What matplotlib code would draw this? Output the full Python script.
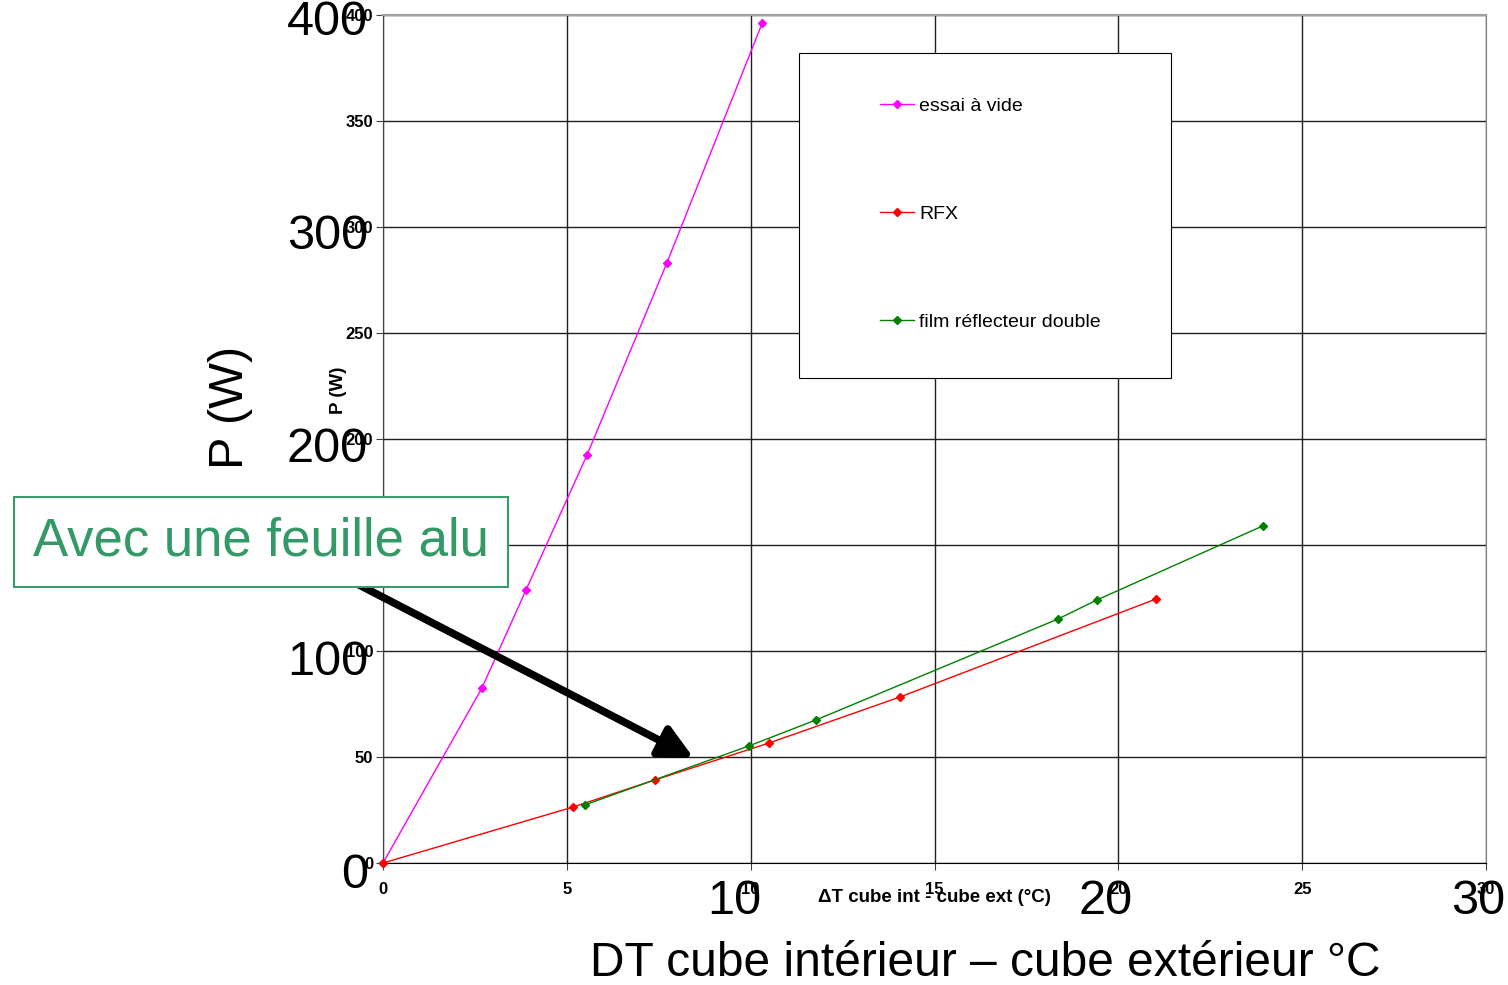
import matplotlib
matplotlib.use("Agg")
import matplotlib.pyplot as plt
import matplotlib.transforms as mtransforms
from matplotlib.patches import Rectangle

plt.rcParams['font.family'] = ['Liberation Sans', 'DejaVu Sans']

# mesures : P (W) en fonction de DT (°C)
dt_vide = [0, 2.69, 3.89, 5.55, 7.72, 10.31]
p_vide = [0, 82.5, 128.8, 192.5, 283, 396]

dt_rfx = [0, 5.17, 7.40, 10.50, 14.06, 21.02]
p_rfx = [0, 26.4, 39.2, 56.6, 78.3, 124.5]

dt_film = [5.49, 9.95, 11.78, 18.36, 19.42, 23.93]
p_film = [27.4, 55.2, 67.5, 115.1, 124.1, 159]

series_names = ['essai à vide', 'RFX', 'film réflecteur double']
series_colors = ['#ff00ff', '#ff0000', '#008000']

small_xticks = [0, 5, 10, 15, 20, 25, 30]
small_yticks = [0, 50, 100, 150, 200, 250, 300, 350, 400]
big_xticks = [10, 20, 30]
big_yticks = [0, 100, 200, 300, 400]

W, H = 1508, 985
fig = plt.figure(figsize=(W / 100, H / 100), dpi=100)

ax = fig.add_axes([383 / W, 1 - 863 / H, (1486 - 383) / W, (863 - 15) / H])
ax.set_xlim(0, 30)
ax.set_ylim(0, 400)
ax.set_xticks(small_xticks)
ax.set_yticks(small_yticks)
ax.tick_params(labelsize=12, length=5, width=0.8, color='#404040')
ax.tick_params(axis='x', pad=9)
ax.tick_params(axis='y', pad=2)
for lab in ax.get_xticklabels() + ax.get_yticklabels():
    lab.set_fontweight('bold')
ax.grid(True, color='#202020', lw=1)
ax.set_axisbelow(True)
ax.spines['top'].set_color('#a0a0a0')
ax.spines['top'].set_linewidth(1.6)
ax.spines['right'].set_color('#808080')
ax.spines['left'].set_color('#404040')
ax.spines['bottom'].set_color('black')

handles = []
for xs, ys, name, col in zip([dt_vide, dt_rfx, dt_film], [p_vide, p_rfx, p_film],
                             series_names, series_colors):
    h, = ax.plot(xs, ys, color=col, lw=1.0, marker='D', ms=4.5, mec=col, mfc=col,
                 label=name, clip_on=False, zorder=3)
    handles.append(h)

# cadre de la légende
bx0, bx1 = (799 - 383) / 1103, (1171 - 383) / 1103
by0, by1 = (863 - 378) / 848, (863 - 53) / 848
ax.add_patch(Rectangle((bx0, by0), bx1 - bx0, by1 - by0, transform=ax.transAxes,
                       facecolor='white', edgecolor='black', lw=0.8, zorder=4))
leg = ax.legend(handles=handles, loc='upper left', frameon=False, fontsize=14,
                bbox_to_anchor=((880 - 383) / 1103, (863 - 97) / 848),
                handlelength=1.75, handletextpad=0.26, labelspacing=4.65,
                borderpad=0, borderaxespad=0)
leg.set_zorder(5)

# petits titres d'axes
ax.text(0.5, -0.041, 'ΔT cube int - cube ext (°C)', transform=ax.transAxes,
        ha='center', va='center', fontsize=13.5, fontweight='bold')
ax.text(-0.040, 0.558, 'P (W)', transform=ax.transAxes, rotation=90,
        ha='center', va='center', fontsize=13.5, fontweight='bold')

# grandes graduations superposées
ov = fig.add_axes([362 / W, 1 - 876 / H, (1478 - 362) / W, (876 - 23) / H])
ov.set_xlim(0, 30)
ov.set_ylim(0, 400)
ov.axis('off')
ov.patch.set_alpha(0)
ty = mtransforms.offset_copy(ov.transData, fig=fig, x=6, y=0, units='dots')
for v in big_yticks:
    ov.text(0, v, str(v), transform=ty, ha='right', va='center', fontsize=35)
tx = mtransforms.offset_copy(ov.transData, fig=fig, x=0, y=-25, units='dots')
for v in big_xticks:
    ov.text(v, 0, str(v), transform=tx, ha='center', va='center', fontsize=35)

fig.text(985 / W, 1 - 963 / H, 'DT cube intérieur – cube extérieur °C',
         ha='center', va='center', fontsize=34.5)
fig.text(230 / W, 1 - 407 / H, 'P (W)', rotation=90,
         ha='center', va='center', fontsize=35)

# flèche et encadré
ax.annotate('', xy=(8.45, 49.5), xytext=(-1.3, 137), xycoords='data',
            annotation_clip=False,
            arrowprops=dict(arrowstyle='-|>,head_length=1.0,head_width=0.5',
                            lw=5.5, color='black', mutation_scale=20,
                            shrinkA=0, shrinkB=0))
fig.text(261 / W, 1 - 542 / H, 'Avec une feuille alu', ha='center', va='center',
         fontsize=38, color='#339966', zorder=10,
         bbox=dict(boxstyle='square,pad=0.37', facecolor='white',
                   edgecolor='#3a9a6a', lw=1.5))

fig.savefig('out.png', dpi=100)
